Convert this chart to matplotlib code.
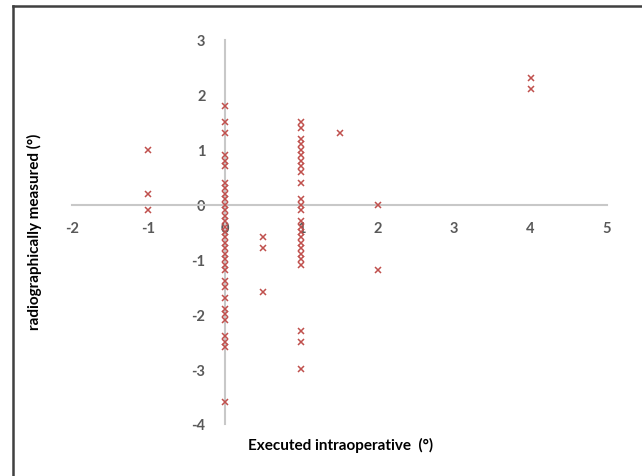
import matplotlib
matplotlib.use("Agg")
import matplotlib.pyplot as plt
from matplotlib.lines import Line2D

# executed intraoperative correction (deg) vs radiographically measured (deg)
x_zero = [0] * 33
y_zero = [1.8, 1.5, 1.3, 0.9, 0.8, 0.7, 0.4, 0.3, 0.2, 0.1, 0.0, -0.1, -0.2,
          -0.3, -0.4, -0.5, -0.6, -0.7, -0.8, -0.9, -1.0, -1.1, -1.2, -1.4,
          -1.5, -1.7, -1.9, -2.0, -2.1, -2.4, -2.5, -2.6, -3.6]
x_one = [1] * 25
y_one = [1.5, 1.4, 1.2, 1.1, 1.0, 0.9, 0.8, 0.7, 0.6, 0.4, 0.1, 0.0, -0.1,
         -0.3, -0.4, -0.5, -0.6, -0.7, -0.8, -0.9, -1.0, -1.1, -2.3, -2.5, -3.0]
x_other = [-1, -1, -1, 0.5, 0.5, 0.5, 1.5, 2, 2, 4, 4]
y_other = [1.0, 0.2, -0.1, -0.6, -0.8, -1.6, 1.3, 0.0, -1.2, 2.3, 2.1]

x_ticks = [-2, -1, 0, 1, 2, 3, 4, 5]
y_ticks = [-4, -3, -2, -1, 0, 1, 2, 3]

plt.rcParams['font.family'] = ['Lato', 'DejaVu Sans']
plt.rcParams['axes.unicode_minus'] = False

fig = plt.figure(figsize=(6.42, 4.77), dpi=100)
ax = fig.add_axes([72 / 642, 1 - 425 / 477, 535 / 642, 384 / 477])

xs = x_zero + x_one + x_other
ys = y_zero + y_one + y_other
ax.plot(xs, ys, linestyle='none', marker='x', markersize=4.5, mew=1.1,
        color='#C0504D', zorder=5, clip_on=False)

ax.set_xlim(-2, 5)
ax.set_ylim(-4, 3)
ax.set_xticks(x_ticks)
ax.set_yticks(y_ticks)

for side in ['top', 'right']:
    ax.spines[side].set_visible(False)
ax.spines['left'].set_position(('data', 0))
ax.spines['bottom'].set_position(('data', 0))
for side in ['left', 'bottom']:
    ax.spines[side].set_color('#C8C8C8')
    ax.spines[side].set_linewidth(1.5)

ax.tick_params(axis='both', length=0, labelsize=10.5, labelcolor='#595959')
ax.tick_params(axis='x', pad=12)
ax.tick_params(axis='y', pad=14)
for lbl in ax.get_xticklabels() + ax.get_yticklabels():
    lbl.set_fontweight('bold')

fig.text(341 / 642, 1 - 445 / 477, 'Executed intraoperative  (°)',
         ha='center', va='center', fontsize=11, fontweight='bold')
fig.text(34 / 642, 1 - 232 / 477, 'radiographically measured (°)',
         ha='center', va='center', rotation=90, fontsize=11, fontweight='bold')

# frame around the picture (top and left edges only)
fig.add_artist(Line2D([13 / 642, 13 / 642], [0, 1 - 6.5 / 477],
                      color='#404040', lw=1.8, transform=fig.transFigure))
fig.add_artist(Line2D([13 / 642, 1], [1 - 6.5 / 477, 1 - 6.5 / 477],
                      color='#404040', lw=1.8, transform=fig.transFigure))

fig.savefig('out.png', dpi=100)
